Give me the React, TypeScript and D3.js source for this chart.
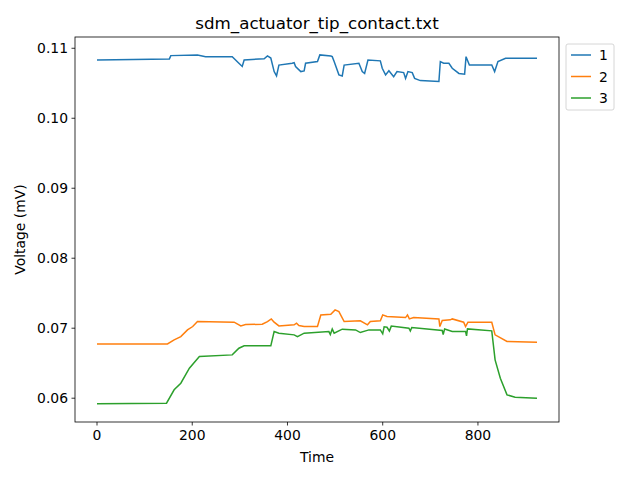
import React from "react";
import * as d3 from "d3";

const s1: [number, number][] = [[0,0.10833],[152,0.10848],[155,0.10895],[211,0.10905],[228,0.1088],[284,0.1088],[298,0.10786],[305,0.1074],[309,0.10833],[351,0.1085],[358,0.1089],[365,0.1086],[372,0.10667],[377,0.10605],[382,0.1076],[410,0.10786],[414,0.10795],[417,0.1074],[428,0.10667],[435,0.10676],[438,0.10786],[463,0.1081],[468,0.10905],[491,0.1089],[494,0.1088],[498,0.1081],[508,0.1062],[515,0.10605],[519,0.1076],[550,0.10786],[557,0.10667],[562,0.1064],[569,0.10833],[595,0.1082],[599,0.10714],[606,0.1062],[613,0.1068],[623,0.10595],[630,0.10667],[644,0.10652],[648,0.1057],[653,0.10667],[662,0.10652],[667,0.1057],[679,0.10538],[718,0.10524],[721,0.1081],[728,0.10786],[739,0.10786],[746,0.10714],[760,0.1064],[772,0.1063],[775,0.1088],[782,0.1076],[829,0.1076],[835,0.10667],[842,0.1081],[858,0.10857],[924,0.10857]];
const s2: [number, number][] = [[0,0.06776],[148,0.06776],[162,0.06833],[176,0.0688],[190,0.06976],[201,0.07024],[211,0.07095],[288,0.07086],[302,0.07033],[312,0.07052],[347,0.07057],[358,0.07095],[366,0.07133],[372,0.07086],[382,0.07033],[414,0.07048],[419,0.07071],[424,0.07038],[435,0.07024],[463,0.07024],[470,0.0719],[491,0.072],[500,0.07262],[508,0.07238],[519,0.07095],[553,0.07105],[568,0.07048],[574,0.07095],[595,0.07105],[600,0.0719],[609,0.07167],[648,0.07152],[652,0.0719],[656,0.07133],[665,0.07152],[718,0.07133],[720,0.07024],[725,0.0711],[742,0.0712],[746,0.07133],[770,0.07086],[774,0.07024],[779,0.07086],[829,0.07086],[836,0.06905],[861,0.0681],[924,0.068]];
const s3: [number, number][] = [[0,0.05919],[146,0.05929],[162,0.0612],[176,0.06214],[194,0.06429],[215,0.06595],[284,0.06619],[298,0.06714],[309,0.06748],[365,0.06748],[372,0.06952],[382,0.06929],[414,0.06905],[421,0.0688],[435,0.06929],[487,0.06952],[490,0.0691],[494,0.0699],[498,0.0693],[515,0.06986],[543,0.06976],[553,0.06938],[571,0.06976],[595,0.06976],[600,0.0692],[603,0.0702],[609,0.07014],[614,0.0696],[618,0.0703],[655,0.07],[658,0.0696],[661,0.0701],[725,0.06967],[727,0.0691],[730,0.0699],[746,0.06952],[774,0.06952],[776,0.0689],[778,0.0699],[829,0.06962],[836,0.06548],[847,0.06286],[861,0.06048],[878,0.06014],[924,0.06]];

const series = [
  { name: "1", data: s1, color: "#1f77b4" },
  { name: "2", data: s2, color: "#ff7f0e" },
  { name: "3", data: s3, color: "#2ca02c" },
];
const xTicks = [0, 200, 400, 600, 800];
const yTicks = [0.06, 0.07, 0.08, 0.09, 0.1, 0.11];

export default function App() {
  const L = 75, R = 559, T = 37, B = 422;
  const x = d3.scaleLinear().domain([-46.2, 970.2]).range([L, R]);
  const y = d3.scaleLinear().domain([0.0566, 0.11161]).range([B, T]);
  const line = d3.line<[number, number]>().x(d => x(d[0])).y(d => y(d[1]));
  const font = "DejaVu Sans, sans-serif";
  const fs = 13.9;
  return (
    <svg width={640} height={480} style={{ position: "absolute", left: 0, top: 0 }} fontFamily={font}>
      <rect width={640} height={480} fill="white" />
      <text x={(L + R) / 2} y={29} textAnchor="middle" fontSize={16.7}>sdm_actuator_tip_contact.txt</text>
      {series.map(s => (
        <path key={s.name} d={line(s.data) || ""} fill="none" stroke={s.color} strokeWidth={1.5} />
      ))}
      <rect x={L} y={T} width={R - L} height={B - T} fill="none" stroke="black" strokeWidth={0.8} />
      {xTicks.map(t => (
        <g key={t}>
          <line x1={x(t)} x2={x(t)} y1={B} y2={B + 3.5} stroke="black" strokeWidth={0.8} />
          <text x={x(t)} y={B + 18} textAnchor="middle" fontSize={fs}>{t}</text>
        </g>
      ))}
      {yTicks.map(t => (
        <g key={t}>
          <line x1={L - 3.5} x2={L} y1={y(t)} y2={y(t)} stroke="black" strokeWidth={0.8} />
          <text x={L - 7} y={y(t) + 5} textAnchor="end" fontSize={fs}>{t.toFixed(2)}</text>
        </g>
      ))}
      <text x={(L + R) / 2} y={462} textAnchor="middle" fontSize={fs}>Time</text>
      <text transform={`translate(25,${(T + B) / 2}) rotate(-90)`} textAnchor="middle" fontSize={fs}>Voltage (mV)</text>
      <rect x={566} y={44} width={48} height={66} rx={2} fill="white" stroke="#cccccc" strokeWidth={0.8} />
      {series.map((s, i) => (
        <g key={s.name}>
          <line x1={571} x2={591} y1={55 + i * 21.5} y2={55 + i * 21.5} stroke={s.color} strokeWidth={1.5} />
          <text x={599} y={60 + i * 21.5} fontSize={fs}>{s.name}</text>
        </g>
      ))}
    </svg>
  );
}
